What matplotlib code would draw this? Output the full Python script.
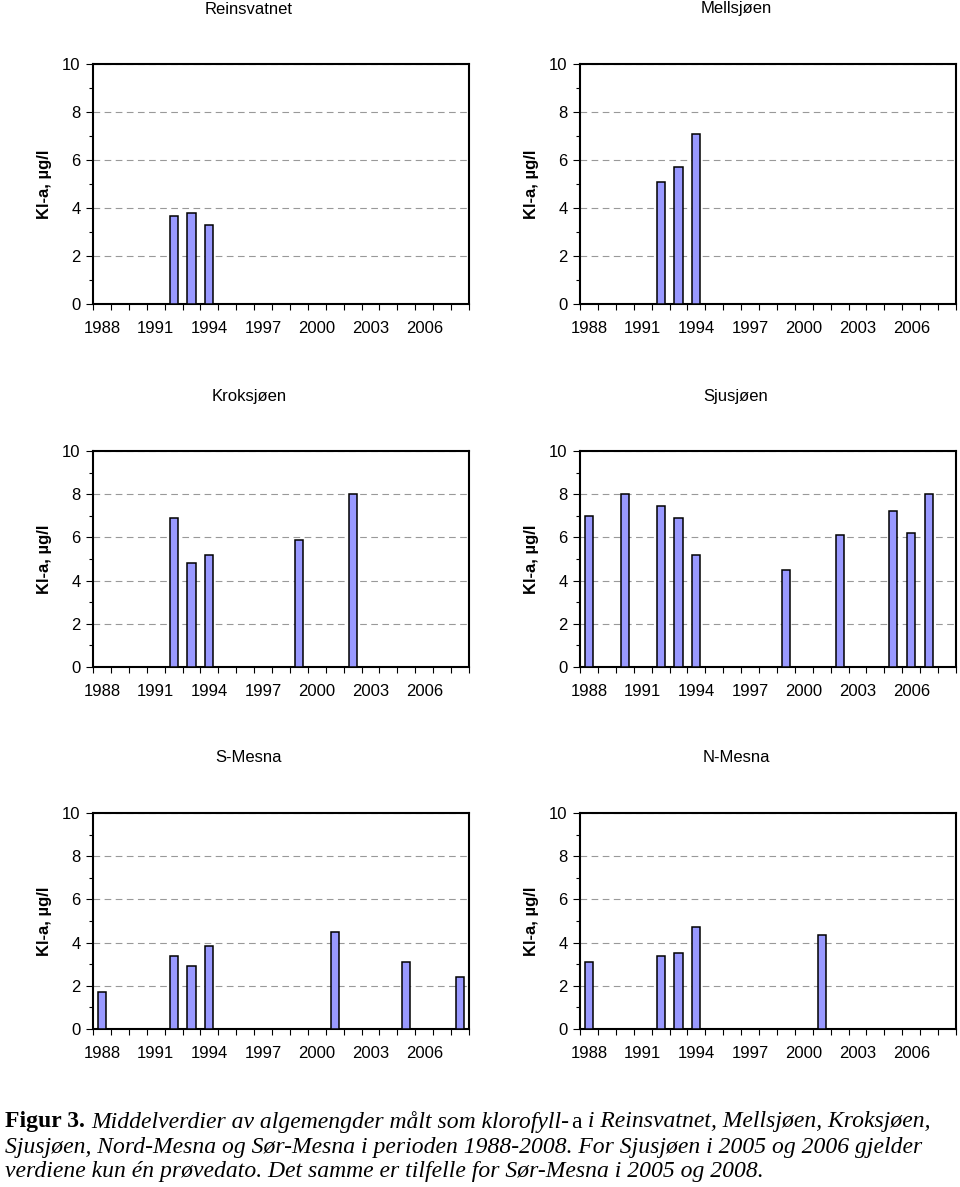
import numpy as np
import matplotlib
matplotlib.use("Agg")
from matplotlib import pyplot as plt

plt.rcParams['font.family'] = ['Liberation Sans', 'DejaVu Sans']

years = list(range(1988, 2009))
tick_years = [1988, 1991, 1994, 1997, 2000, 2003, 2006]

# lake -> {year: klorofyll-a}
reinsvatnet_years = [1992, 1993, 1994]
reinsvatnet_vals = [3.65, 3.8, 3.3]

mellsjoen_years = [1992, 1993, 1994]
mellsjoen_vals = [5.1, 5.7, 7.1]

kroksjoen_years = [1992, 1993, 1994, 1999, 2002]
kroksjoen_vals = [6.9, 4.8, 5.2, 5.9, 8.0]

sjusjoen_years = [1988, 1990, 1992, 1993, 1994, 1999, 2002, 2005, 2006, 2007]
sjusjoen_vals = [7.0, 8.0, 7.45, 6.9, 5.2, 4.5, 6.1, 7.2, 6.2, 8.0]

smesna_years = [1988, 1992, 1993, 1994, 2001, 2005, 2008]
smesna_vals = [1.7, 3.4, 2.9, 3.85, 4.5, 3.1, 2.4]

nmesna_years = [1988, 1992, 1993, 1994, 2001]
nmesna_vals = [3.1, 3.4, 3.5, 4.7, 4.35]

panels = [
    ("Reinsvatnet", reinsvatnet_years, reinsvatnet_vals),
    ("Mellsjøen", mellsjoen_years, mellsjoen_vals),
    ("Kroksjøen", kroksjoen_years, kroksjoen_vals),
    ("Sjusjøen", sjusjoen_years, sjusjoen_vals),
    ("S-Mesna", smesna_years, smesna_vals),
    ("N-Mesna", nmesna_years, nmesna_vals),
]

W, H = 960, 1187
fig = plt.figure(figsize=(W / 100, H / 100), dpi=100)

# pixel boxes: (left, top, right, bottom)
col_x = [(93, 469), (580, 956)]
row_y = [(64, 304), (451, 667), (813, 1029)]
title_y = [9, 396, 758]

for i, (name, yrs, vals) in enumerate(panels):
    r, c = divmod(i, 2)
    x0, x1 = col_x[c]
    y0, y1 = row_y[r]
    ax = fig.add_axes([x0 / W, 1 - y1 / H, (x1 - x0) / W, (y1 - y0) / H])

    pos = [years.index(y) for y in yrs]
    ax.bar(pos, vals, width=0.45, color='#9999FF', edgecolor='black', linewidth=1.1, zorder=3)

    ax.set_xlim(-0.5, len(years) - 0.5)
    ax.set_ylim(0, 10)

    # category boundary ticks, labels on every third year
    ax.set_xticks(np.arange(-0.5, len(years), 1.0))
    ax.set_xticklabels([])
    ax.set_xticks([years.index(y) for y in tick_years], minor=True)
    ax.set_xticklabels([str(y) for y in tick_years], minor=True)
    ax.tick_params(axis='x', which='major', direction='out', length=4, width=0.8)
    ax.tick_params(axis='x', which='minor', length=0, pad=12, labelsize=12)

    ax.set_yticks(range(0, 11, 2))
    ax.set_yticks(range(1, 10, 2), minor=True)
    ax.tick_params(axis='y', which='major', direction='out', length=5, width=0.8, pad=4, labelsize=12)
    ax.tick_params(axis='y', which='minor', direction='out', length=3, width=0.8)

    ax.yaxis.grid(True, which='major', linestyle=(0, (6, 4)), color='#999999', linewidth=0.8, zorder=0)
    for sp in ax.spines.values():
        sp.set_linewidth(1.5)

    ax.set_ylabel("Kl-a, µg/l", fontsize=12, fontweight='bold', labelpad=7)

    fig.text((x0 + x1) / 2 / W - 32 / W, 1 - title_y[r] / H, name,
             ha='center', va='center', fontsize=12)

# caption with mixed styles
renderer = fig.canvas.get_renderer()
serif = ['Liberation Serif', 'DejaVu Serif']
lines = [
    [("Figur 3. ", 'bold', 'normal'),
     ("Middelverdier av algemengder målt som klorofyll-", 'normal', 'italic'),
     ("a", 'normal', 'normal'),
     (" i Reinsvatnet, Mellsjøen, Kroksjøen,", 'normal', 'italic')],
    [("Sjusjøen, Nord-Mesna og Sør-Mesna i perioden 1988-2008. For Sjusjøen i 2005 og 2006 gjelder", 'normal', 'italic')],
    [("verdiene kun én prøvedato. Det samme er tilfelle for Sør-Mesna i 2005 og 2008.", 'normal', 'italic')],
]
line_y = [1122, 1147, 1172]
for segs, ly in zip(lines, line_y):
    xpx = 5
    for txt, weight, style in segs:
        t = fig.text(xpx / W, 1 - ly / H, txt, ha='left', va='center', fontsize=17,
                     family=serif, fontweight=weight, fontstyle=style)
        bb = t.get_window_extent(renderer)
        xpx += bb.width + 1

fig.savefig("out.png", dpi=100)
